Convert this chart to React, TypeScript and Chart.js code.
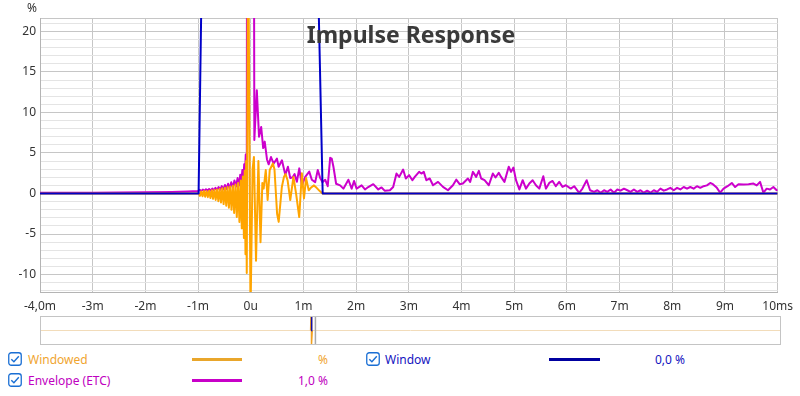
import React, { useEffect, useRef } from "react";
import { Chart, registerables } from "chart.js";

Chart.register(...registerables);

// ---------- axis ticks ----------
const xTickValues = [-4, -3, -2, -1, 0, 1, 2, 3, 4, 5, 6, 7, 8, 9, 10];
const xTickLabels = ["-4,0m", "-3m", "-2m", "-1m", "0u", "1m", "2m", "3m", "4m", "5m", "6m", "7m", "8m", "9m", "10ms"];
const yTickValues = [-10, -5, 0, 5, 10, 15, 20];
const yTickLabels = ["-10", "-5", "0", "5", "10", "15", "20"];
const xMin = -4;
const xMax = 10;
const yMin = -12.15;
const yMax = 21.65;

// ---------- Window (%) ----------
const windowTimes = [-4, -0.99, -0.937, -0.8, 1.15, 1.285, 1.365, 10];
const windowValues = [0, 0, 24, 100, 100, 24, 0, 0];

// ---------- Windowed impulse (%) ----------
const windowedTimes = [
  -4, -1.0, -0.99, -0.965, -0.94, -0.915, -0.89, -0.865, -0.84, -0.815, -0.79, -0.765, -0.74, -0.715,
  -0.69, -0.665, -0.64, -0.615, -0.59, -0.565, -0.54, -0.515, -0.49, -0.465, -0.44, -0.415, -0.39,
  -0.365, -0.34, -0.315, -0.29, -0.265, -0.24, -0.215, -0.19, -0.17, -0.15, -0.13, -0.115, -0.1,
  -0.088, -0.076, -0.05, -0.005, 0.035, 0.06, 0.1, 0.145, 0.185, 0.22, 0.245, 0.285, 0.32, 0.36,
  0.42, 0.45, 0.5, 0.53, 0.59, 0.63, 0.66, 0.7, 0.75, 0.81, 0.86, 0.92, 0.97, 1.01, 1.05, 1.1,
  1.14, 1.2, 1.25, 1.31, 1.36, 10,
];
const windowedValues = [
  0, 0, 0.05, -0.3, 0.25, -0.35, 0.3, -0.4, 0.3, -0.45, 0.35, -0.55, 0.4, -0.65,
  0.45, -0.8, 0.5, -0.95, 0.55, -1.1, 0.65, -1.3, 0.7, -1.5, 0.8, -1.75, 0.85,
  -2.0, 0.95, -2.4, 1.1, -2.9, 1.3, -3.5, 1.6, -4.3, 2.1, -5.5, 2.8, -7.5,
  4, -9.8, 35, -15, 3, 4.5, -8.3, 4.0, -6.0, 1.3, 0.6, 2.9, -0.8, 2.9,
  3.7, 3.0, -2.5, -3.5, 0.8, 2.05, 2.4, 1.6, -0.8, 2.05, 0.0, -2.9, 2.5, -0.6, 1.9, 0.4,
  0.7, 1.0, 0.7, 0.3, 0, 0,
];

// ---------- Envelope (ETC) (%) ----------
const envelopeTimes = [
  -4, -3, -2, -1.5, -1.2,
  -1.0, -0.97, -0.94, -0.91, -0.88, -0.85, -0.82, -0.79, -0.76, -0.73, -0.7, -0.67, -0.64, -0.61,
  -0.58, -0.55, -0.52, -0.49, -0.46, -0.43, -0.4, -0.37, -0.34, -0.31, -0.28, -0.25, -0.22, -0.2,
  -0.18, -0.16, -0.14, -0.125, -0.11, -0.095, -0.085, -0.075, -0.062, 0.042, 0.068, 0.115, 0.157,
  0.198, 0.236, 0.265, 0.308, 0.34, 0.384, 0.435, 0.497, 0.529, 0.592, 0.656, 0.705, 0.75, 0.794,
  0.832, 0.875, 0.921, 0.97, 1.034, 1.11, 1.159, 1.223, 1.272, 1.318, 1.361, 1.412, 1.461, 1.507,
  1.537, 1.569, 1.62, 1.696, 1.758, 1.853, 1.915, 1.96, 2.009, 2.104, 2.168, 2.23, 2.325, 2.42,
  2.482, 2.546, 2.641, 2.703, 2.766, 2.817, 2.892, 2.943, 3.006, 3.068, 3.113, 3.195, 3.238, 3.284,
  3.333, 3.397, 3.459, 3.554, 3.648, 3.743, 3.837, 3.9, 3.964, 4.026, 4.121, 4.164, 4.216, 4.278,
  4.329, 4.373, 4.437, 4.518, 4.594, 4.645, 4.707, 4.751, 4.815, 4.896, 4.94, 4.985, 5.034, 5.098,
  5.161, 5.223, 5.287, 5.35, 5.412, 5.476, 5.552, 5.601, 5.665, 5.728, 5.79, 5.854, 5.917, 5.979,
  6.074, 6.138, 6.233, 6.295, 6.376, 6.44, 6.516, 6.578, 6.641, 6.705, 6.767, 6.83, 6.894, 6.957,
  7.019, 7.083, 7.146, 7.208, 7.272, 7.335, 7.397, 7.461, 7.524, 7.586, 7.65, 7.713, 7.775, 7.839,
  7.902, 7.964, 8.028, 8.091, 8.153, 8.217, 8.28, 8.342, 8.406, 8.469, 8.531, 8.595, 8.658, 8.72,
  8.771, 8.847, 8.909, 8.973, 9.049, 9.13, 9.193, 9.257, 9.352, 9.446, 9.541, 9.603, 9.666, 9.73,
  9.792, 9.855, 9.919, 9.981, 10,
];
const envelopeValues = [
  0.08, 0.1, 0.14, 0.2, 0.25,
  0.3, 0.45, 0.3, 0.48, 0.32, 0.52, 0.34, 0.56, 0.36, 0.62, 0.38, 0.7, 0.42, 0.8,
  0.46, 0.92, 0.5, 1.05, 0.56, 1.2, 0.62, 1.38, 0.72, 1.6, 0.85, 1.9, 1.0, 2.3,
  1.25, 2.9, 1.6, 3.6, 2.3, 4.8, 3.8, 7, 100, 100, 6.6, 12.75, 7.0,
  8.2, 5.6, 6.4, 4.2, 3.6, 4.5, 3.7, 4.3, 3.3, 4.1, 2.3, 3.3, 1.9, 2.0,
  2.4, 1.45, 3.1, 1.0, 2.05, 2.7, 1.7, 1.4, 2.9, 1.9, 1.4, 1.7, 0.9, 4.4,
  4.3, 3.3, 1.2, 1.0, 0.6, 1.7, 0.6, 1.55, 0.6, 1.0, 0.5, 0.8, 1.15, 0.5,
  0.75, 0.33, 0.4, 0.8, 2.46, 2.05, 2.96, 1.85, 2.26, 1.64, 2.05, 2.67, 2.46, 2.67,
  1.64, 1.85, 1.02, 1.43, 0.82, 0.4, 1.02, 1.71, 1.15, 1.23, 1.85, 1.43, 2.67, 2.05,
  2.8, 1.85, 1.64, 1.02, 2.46, 1.97, 2.55, 2.05, 1.43, 3.3, 2.67, 3.2, 1.64, 0.5,
  1.64, 0.6, 1.23, 1.64, 1.02, 0.6, 2.13, 0.6, 1.3, 1.55, 0.9, 1.43, 0.82, 1.02,
  0.61, 0.9, 0.08, 0.61, 1.64, 0.4, 0.2, 0.4, 0.08, 0.4, 0.2, 0.5, 0.1, 0.5,
  0.35, 0.6, 0.4, 0.2, 0.5, 0.2, 0.4, 0.1, 0.35, 0.1, 0.4, 0.2, 0.6, 0.35,
  0.5, 0.7, 0.4, 0.7, 0.5, 0.8, 0.6, 0.8, 0.6, 0.9, 0.7, 0.9, 1.0, 1.3,
  1.15, 0.7, 0.1, 0.6, 0.9, 1.3, 0.8, 1.15, 1.1, 1.15, 1.23, 1.0, 1.43, 0.1,
  0.6, 0.5, 0.8, 0.4, 0.5,
];

// ---------- overview strip ----------
const overviewMin = -677;
const overviewMax = 1173;
const overviewBaselineTimes = [-677, 1173];
const overviewBaselineValues = [0, 0];
const overviewWindowedTimes = [-2, -0.05, 0.2, 2];
const overviewWindowedValues = [0, 40, -14, 0];
const overviewWindowTimes = [-1, -0.94, 1.28, 1.36];
const overviewWindowValues = [0, 100, 100, 0];
const overviewCursorTimes = [10, 10];
const overviewCursorValues = [-14, 14];

// ---------- legend ----------
const legendNames = ["Windowed", "Envelope (ETC)", "Window"];
const legendReadouts = ["%", "1,0 %", "0,0 %"];

const ORANGE = "#FFA500";
const MAGENTA = "#CC00CC";
const BLUE = "#0000C8";
const FONT = "'Noto Sans', 'Open Sans', sans-serif";

function toPoints(ts: number[], vs: number[]) {
  return ts.map((t, i) => ({ x: t, y: vs[i] }));
}

function CheckBox({ left, top }: { left: number; top: number }) {
  return (
    <svg
      width={14}
      height={14}
      style={{ position: "absolute", left, top }}
      viewBox="0 0 14 14"
    >
      <rect x={0.75} y={0.75} width={12.5} height={12.5} rx={2.5} ry={2.5} fill="#fff" stroke="#1a6fd4" strokeWidth={1.3} />
      <polyline points="3.3,7.2 5.9,9.8 10.8,4.2" fill="none" stroke="#1a6fd4" strokeWidth={1.4} />
    </svg>
  );
}

function LegendRow(props: {
  top: number;
  boxLeft: number;
  textLeft: number;
  lineLeft: number;
  lineWidth: number;
  valueRight: number;
  name: string;
  value: string;
  textColor: string;
  lineColor: string;
}) {
  const { top, boxLeft, textLeft, lineLeft, lineWidth, valueRight, name, value, textColor, lineColor } = props;
  return (
    <>
      <CheckBox left={boxLeft} top={top - 7} />
      <div
        style={{
          position: "absolute",
          left: textLeft,
          top: top - 8,
          fontSize: 12,
          lineHeight: "17px",
          color: textColor,
          fontFamily: FONT,
          whiteSpace: "nowrap",
        }}
      >
        {name}
      </div>
      <div
        style={{
          position: "absolute",
          left: lineLeft,
          top: top - 1,
          width: lineWidth,
          height: 2.5,
          background: lineColor,
        }}
      />
      <div
        style={{
          position: "absolute",
          left: valueRight - 100,
          width: 100,
          textAlign: "right",
          top: top - 8,
          fontSize: 12,
          lineHeight: "17px",
          color: textColor,
          fontFamily: FONT,
          whiteSpace: "nowrap",
        }}
      >
        {value}
      </div>
    </>
  );
}

export default function App() {
  const mainRef = useRef<HTMLCanvasElement | null>(null);
  const overRef = useRef<HTMLCanvasElement | null>(null);

  useEffect(() => {
    document.body.style.margin = "0";
    const charts: Chart[] = [];
    if (mainRef.current) {
      charts.push(
        new Chart(mainRef.current, {
          type: "line",
          data: {
            datasets: [
              {
                label: legendNames[2],
                data: toPoints(windowTimes, windowValues),
                borderColor: BLUE,
                borderWidth: 2,
                pointRadius: 0,
                order: 0,
              },
              {
                label: legendNames[0],
                data: toPoints(windowedTimes, windowedValues),
                borderColor: ORANGE,
                borderWidth: 2,
                pointRadius: 0,
                order: 1,
              },
              {
                label: legendNames[1],
                data: toPoints(envelopeTimes, envelopeValues),
                borderColor: MAGENTA,
                borderWidth: 2,
                pointRadius: 0,
                order: 2,
              },
            ],
          },
          options: {
            responsive: false,
            animation: false,
            devicePixelRatio: 1,
            layout: { padding: { left: 0, right: 19, top: 18, bottom: 0 } },
            plugins: {
              legend: { display: false },
              tooltip: { enabled: false },
              title: { display: false },
            },
            elements: {
              line: { tension: 0, borderJoinStyle: "round" },
              point: { radius: 0 },
            },
            scales: {
              x: {
                type: "linear",
                min: xMin,
                max: xMax,
                afterFit: (s: any) => {
                  s.height = 24;
                },
                afterBuildTicks: (s: any) => {
                  s.ticks = xTickValues.map((v) => ({ value: v }));
                },
                ticks: {
                  autoSkip: false,
                  maxRotation: 0,
                  padding: 7,
                  color: "#333",
                  font: { family: FONT, size: 12 },
                  callback: (v: any) => {
                    const i = xTickValues.indexOf(Number(v));
                    return i >= 0 ? xTickLabels[i] : "";
                  },
                },
                grid: { color: "#c6c6c6", drawTicks: false, lineWidth: 1 },
                border: { color: "#b4b4b4" },
              },
              y: {
                type: "linear",
                min: yMin,
                max: yMax,
                afterFit: (s: any) => {
                  s.width = 40;
                },
                afterBuildTicks: (s: any) => {
                  const t: { value: number }[] = [];
                  for (let v = Math.ceil(yMin); v <= Math.floor(yMax); v++) t.push({ value: v });
                  t.push({ value: yMax });
                  s.ticks = t;
                },
                ticks: {
                  autoSkip: false,
                  padding: 4,
                  color: "#333",
                  font: { family: FONT, size: 12 },
                  callback: (v: any) => {
                    const i = yTickValues.indexOf(Number(v));
                    return i >= 0 ? yTickLabels[i] : "";
                  },
                },
                grid: {
                  drawTicks: false,
                  lineWidth: 1,
                  color: (ctx: any) => {
                    const v = ctx.tick ? ctx.tick.value : 0;
                    if (!Number.isInteger(v)) return "#c6c6c6";
                    return v % 5 === 0 ? "#c6c6c6" : "#e4e4e4";
                  },
                },
                border: { color: "#b4b4b4" },
              },
            },
          },
        } as any)
      );
    }
    if (overRef.current) {
      charts.push(
        new Chart(overRef.current, {
          type: "line",
          data: {
            datasets: [
              {
                data: toPoints(overviewWindowTimes, overviewWindowValues),
                borderColor: "#1010b0",
                borderWidth: 1.5,
                pointRadius: 0,
                order: 0,
              },
              {
                data: toPoints(overviewCursorTimes, overviewCursorValues),
                borderColor: "#a8a8a8",
                borderWidth: 1.5,
                pointRadius: 0,
                order: 1,
              },
              {
                data: toPoints(overviewWindowedTimes, overviewWindowedValues),
                borderColor: "#f0a020",
                borderWidth: 1.5,
                pointRadius: 0,
                order: 2,
              },
              {
                data: toPoints(overviewBaselineTimes, overviewBaselineValues),
                borderColor: "#f2dcba",
                borderWidth: 1,
                pointRadius: 0,
                order: 3,
              },
            ],
          },
          options: {
            responsive: false,
            animation: false,
            devicePixelRatio: 1,
            layout: { padding: 0 },
            plugins: { legend: { display: false }, tooltip: { enabled: false } },
            elements: { line: { tension: 0 }, point: { radius: 0 } },
            scales: {
              x: { type: "linear", min: overviewMin, max: overviewMax, display: false },
              y: { type: "linear", min: -14, max: 14, display: false },
            },
          },
        } as any)
      );
    }
    return () => {
      charts.forEach((c) => c.destroy());
    };
  }, []);

  return (
    <div
      style={{
        position: "fixed",
        left: 0,
        top: 0,
        width: 800,
        height: 396,
        background: "#fff",
        fontFamily: FONT,
        overflow: "hidden",
      }}
    >
      <canvas ref={mainRef} width={800} height={316} style={{ position: "absolute", left: 0, top: 0 }} />
      <div
        style={{
          position: "absolute",
          left: 27,
          top: 0,
          fontSize: 12,
          color: "#333",
          lineHeight: "16px",
        }}
      >
        %
      </div>
      <div
        style={{
          position: "absolute",
          left: 261,
          width: 300,
          top: 19,
          textAlign: "center",
          fontSize: 23,
          fontWeight: 700,
          color: "#3a3a3a",
          lineHeight: "30px",
          whiteSpace: "nowrap",
        }}
      >
        Impulse Response
      </div>
      <div
        style={{
          position: "absolute",
          left: 40,
          top: 316,
          width: 739,
          height: 27,
          border: "1px solid #c4c4c4",
        }}
      >
        <canvas ref={overRef} width={739} height={27} style={{ display: "block" }} />
      </div>
      <LegendRow
        top={359}
        boxLeft={8}
        textLeft={28}
        lineLeft={192}
        lineWidth={50}
        valueRight={328}
        name={legendNames[0]}
        value={legendReadouts[0]}
        textColor="#f0a530"
        lineColor="#e9a62b"
      />
      <LegendRow
        top={380}
        boxLeft={8}
        textLeft={28}
        lineLeft={192}
        lineWidth={50}
        valueRight={328}
        name={legendNames[1]}
        value={legendReadouts[1]}
        textColor="#c000c0"
        lineColor="#c800c8"
      />
      <LegendRow
        top={359}
        boxLeft={366}
        textLeft={385}
        lineLeft={549}
        lineWidth={51}
        valueRight={685}
        name={legendNames[2]}
        value={legendReadouts[2]}
        textColor="#1414c0"
        lineColor="#0000a0"
      />
    </div>
  );
}
